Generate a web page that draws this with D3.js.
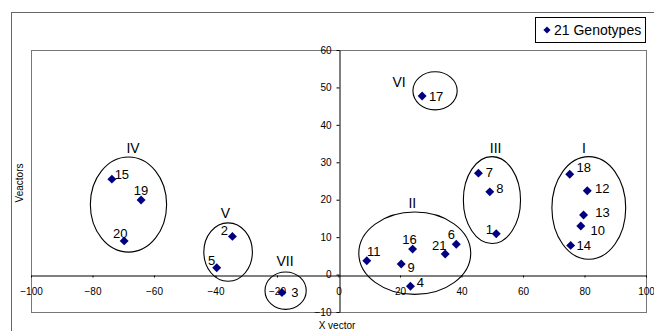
<!DOCTYPE html>
<html>
<head>
<meta charset="utf-8">
<script src="https://cdn.jsdelivr.net/npm/d3@7"></script>
<style>
  body { margin: 0; background: #fff; }
  text { font-family: Arial, "Liberation Sans", sans-serif; }
</style>
</head>
<body>
<div id="grafico"></div>
<script>
// genotipos y coordenadas
let genotipos = ["1","2","3","4","5","6","7","8","9","10","11","12","13","14","15","16","17","18","19","20","21"];
let valores_x = [51.3, -34.5, -18.4, 23.4, -39.6, 38.3, 45.5, 49.2, 20.4, 78.8, 9.2, 80.9, 79.7, 75.5, -73.7, 24.1, 27.2, 75.2, -64.2, -69.7, 34.7];
let valores_y = [10.9, 10.2, -4.8, -3.1, 1.8, 8.1, 27.1, 22.1, 2.8, 13.0, 3.7, 22.4, 15.9, 7.8, 25.5, 6.8, 47.7, 26.8, 19.9, 9.0, 5.5];

// grupos (elipses) en unidades de los ejes
let grupos = ["I", "II", "III", "IV", "V", "VI", "VII"];
let grupos_cx = [81.4, 24.8, 49.9, -68.3, -35.9, 31.4, -17.2];
let grupos_cy = [17.8, 5.7, 19.9, 18.7, 6.0, 49.1, -4.3];
let grupos_rx = [12.0, 18.2, 9.3, 12.4, 7.9, 7.2, 6.7];
let grupos_ry = [13.7, 11.0, 11.6, 12.7, 7.8, 5.1, 5.0];
let grupos_lx = [79.8, 24.0, 51.1, -66.8, -36.8, 19.7, -17.4];
let grupos_ly = [33.7, 19.0, 33.7, 33.7, 16.5, 51.5, 3.6];

let ticks_x = [-100, -80, -60, -40, -20, 0, 20, 40, 60, 80, 100];
let ticks_y = [-10, 0, 10, 20, 30, 40, 50, 60];

// desplazamiento de cada etiqueta respecto a su punto (px)
let desp_etiquetas = [[-7,-4],[-8,-6],[13,0],[10,-4],[-5,-7],[-5,-10],[11,-1],[10,-3],[10,3],[17,5],[7,-9],
    [15,-2],[19,-3],[13,0],[10,-5],[-3,-10],[14,0],[14,-7],[0,-10],[-4,-7],[-6,-9]];

let ancho = 654, alto = 331;

let svg = d3.select("#grafico")
    .append("svg")
    .attr("width", ancho)
    .attr("height", alto);

// marco exterior del grafico
svg.append("rect")
    .attr("x", 11.5).attr("y", 12.5)
    .attr("width", 700).attr("height", 400)
    .attr("fill", "none")
    .attr("stroke", "#666");

let x = d3.scaleLinear().domain([-100, 100]).range([31, 646]);
let y = d3.scaleLinear().domain([-10, 60]).range([312, 50]);

// area de trazado
svg.append("rect")
    .attr("x", x(-100) + 0.5).attr("y", y(60) + 0.5)
    .attr("width", x(100) - x(-100)).attr("height", y(-10) - y(60))
    .attr("fill", "none")
    .attr("stroke", "#777");

let eje_x = svg.append("g")
    .attr("transform", "translate(0," + (Math.round(y(0)) + 0.5) + ")")
    .call(d3.axisBottom(x).tickValues(ticks_x).tickSizeInner(2).tickSizeOuter(0).tickPadding(10));
let eje_y = svg.append("g")
    .attr("transform", "translate(" + (Math.round(x(0)) + 0.5) + ",0)")
    .call(d3.axisLeft(y).tickValues(ticks_y).tickSizeInner(3).tickSizeOuter(0).tickPadding(5));

[eje_x, eje_y].forEach(function (eje) {
    eje.select(".domain").attr("stroke", "#000");
    eje.selectAll("line").attr("stroke", "#000");
    eje.selectAll("text")
        .style("font-family", "Arial, 'Liberation Sans', sans-serif")
        .style("font-size", "10px")
        .attr("fill", "#000");
});

//Etiqueta eje X
svg.append("text")
    .attr("text-anchor", "middle")
    .attr("x", 337)
    .attr("y", 329)
    .style("font-size", "10px")
    .text("X vector");

//Etiqueta eje Y
svg.append("text")
    .attr("text-anchor", "middle")
    .attr("transform", "translate(23," + 183 + ") rotate(-90)")
    .style("font-size", "10px")
    .text("Veactors");

// elipses de los grupos
svg.append("g")
    .selectAll("ellipse")
    .data(grupos)
    .enter()
    .append("ellipse")
    .attr("cx", function (d, i) { return x(grupos_cx[i]); })
    .attr("cy", function (d, i) { return y(grupos_cy[i]); })
    .attr("rx", function (d, i) { return x(grupos_rx[i]) - x(0); })
    .attr("ry", function (d, i) { return y(0) - y(grupos_ry[i]); })
    .attr("fill", "none")
    .attr("stroke", "#000")
    .attr("stroke-width", 1.1);

svg.append("g")
    .selectAll("text")
    .data(grupos)
    .enter()
    .append("text")
    .attr("text-anchor", "middle")
    .attr("x", function (d, i) { return x(grupos_lx[i]); })
    .attr("y", function (d, i) { return y(grupos_ly[i]); })
    .attr("dy", "0.35em")
    .style("font-size", "14px")
    .text(function (d) { return d; });

// puntos
let diamante = d3.symbol().type(d3.symbolSquare).size(40);

svg.append("g")
    .selectAll("path")
    .data(genotipos)
    .enter()
    .append("path")
    .attr("d", diamante)
    .attr("transform", function (d, i) {
        return "translate(" + x(valores_x[i]) + "," + y(valores_y[i]) + ") rotate(45)";
    })
    .attr("fill", "#000080");

svg.append("g")
    .selectAll("text")
    .data(genotipos)
    .enter()
    .append("text")
    .attr("text-anchor", "middle")
    .attr("x", function (d, i) { return x(valores_x[i]) + desp_etiquetas[i][0]; })
    .attr("y", function (d, i) { return y(valores_y[i]) + desp_etiquetas[i][1]; })
    .attr("dy", "0.35em")
    .style("font-size", "13px")
    .text(function (d) { return d; });

// leyenda
let leyenda = svg.append("g").attr("id", "leyenda");
leyenda.append("rect")
    .attr("x", 535.5).attr("y", 17.5)
    .attr("width", 110).attr("height", 25)
    .attr("fill", "#fff")
    .attr("stroke", "#000");
leyenda.append("path")
    .attr("d", d3.symbol().type(d3.symbolSquare).size(26))
    .attr("transform", "translate(547,30) rotate(45)")
    .attr("fill", "#000080");
leyenda.append("text")
    .attr("x", 554)
    .attr("y", 30)
    .attr("dy", "0.35em")
    .style("font-size", "14px")
    .text("21 Genotypes");
</script>
</body>
</html>
